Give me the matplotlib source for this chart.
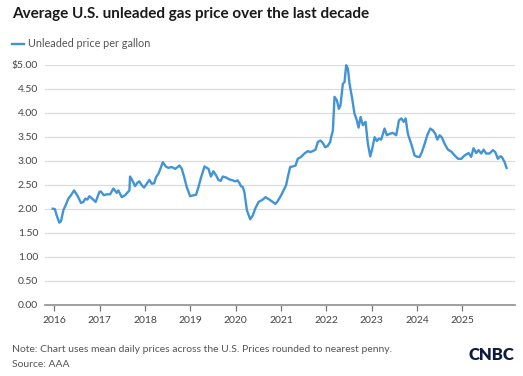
import matplotlib
matplotlib.use('Agg')
import matplotlib.pyplot as plt
import matplotlib.dates as mdates
import pandas as pd

# weekly-ish AAA regular unleaded average
dates = [
    '2015-12-19', '2016-01-06', '2016-01-20', '2016-02-10', '2016-02-24', '2016-03-14',
    '2016-04-01', '2016-04-23', '2016-05-14', '2016-06-08', '2016-07-04', '2016-08-03',
    '2016-08-22', '2016-09-07', '2016-09-23', '2016-10-09', '2016-10-28', '2016-11-29',
    '2016-12-29', '2017-01-09', '2017-02-04', '2017-02-26', '2017-03-25', '2017-04-21',
    '2017-05-18', '2017-05-31', '2017-06-27', '2017-07-24', '2017-08-20', '2017-08-28',
    '2017-09-02', '2017-09-21', '2017-10-12', '2017-10-31', '2017-11-16', '2017-12-05',
    '2017-12-24', '2018-01-15', '2018-02-05', '2018-02-24', '2018-03-15', '2018-03-31',
    '2018-04-19', '2018-05-10', '2018-05-24', '2018-06-17', '2018-07-08', '2018-08-04',
    '2018-08-31', '2018-09-22', '2018-10-05', '2018-10-24', '2018-11-12', '2018-12-03',
    '2018-12-30', '2019-01-26', '2019-02-16', '2019-03-07', '2019-03-29', '2019-04-25',
    '2019-05-27', '2019-06-15', '2019-07-06', '2019-07-28', '2019-08-15', '2019-09-03',
    '2019-09-19', '2019-10-16', '2019-11-12', '2019-12-09', '2019-12-28', '2020-01-16',
    '2020-02-01', '2020-02-12', '2020-02-28', '2020-03-12', '2020-03-31', '2020-04-27',
    '2020-05-18', '2020-06-06', '2020-07-03', '2020-08-06', '2020-08-28', '2020-09-29',
    '2020-10-26', '2020-11-16', '2020-12-05', '2021-01-01', '2021-01-20', '2021-02-10',
    '2021-02-24', '2021-03-15', '2021-04-05', '2021-04-27', '2021-05-15', '2021-06-11',
    '2021-07-08', '2021-08-04', '2021-08-23', '2021-09-13', '2021-10-05', '2021-10-24',
    '2021-11-14', '2021-12-03', '2021-12-22', '2022-01-12', '2022-01-31', '2022-02-08',
    '2022-02-22', '2022-03-07', '2022-03-26', '2022-04-11', '2022-04-24', '2022-05-13',
    '2022-05-27', '2022-06-09', '2022-06-23', '2022-07-06', '2022-07-25', '2022-08-15',
    '2022-09-03', '2022-09-17', '2022-10-03', '2022-10-22', '2022-11-12', '2022-12-01',
    '2022-12-20', '2023-01-05', '2023-01-24', '2023-02-11', '2023-02-28', '2023-03-18',
    '2023-04-14', '2023-05-03', '2023-05-25', '2023-06-20', '2023-07-17', '2023-08-08',
    '2023-08-27', '2023-09-15', '2023-10-01', '2023-10-19', '2023-11-15', '2023-12-12',
    '2024-01-03', '2024-01-22', '2024-02-09', '2024-03-02', '2024-03-23', '2024-04-17',
    '2024-05-08', '2024-05-27', '2024-06-12', '2024-07-01', '2024-07-20', '2024-08-10',
    '2024-09-06', '2024-10-03', '2024-10-30', '2024-11-26', '2024-12-23', '2025-01-09',
    '2025-01-31', '2025-02-19', '2025-03-12', '2025-03-31', '2025-04-21', '2025-05-10',
    '2025-06-01', '2025-06-20', '2025-07-11', '2025-08-07', '2025-09-03', '2025-09-22',
    '2025-10-13', '2025-11-01', '2025-11-14', '2025-12-06', '2025-12-22',
]
prices = [
    2.00, 1.99, 1.86, 1.71, 1.74, 1.97,
    2.07, 2.21, 2.28, 2.38, 2.28, 2.12,
    2.14, 2.21, 2.19, 2.26, 2.22, 2.14,
    2.35, 2.36, 2.28, 2.30, 2.30, 2.42,
    2.33, 2.38, 2.24, 2.28, 2.36, 2.38,
    2.67, 2.59, 2.47, 2.54, 2.57, 2.49,
    2.44, 2.52, 2.60, 2.52, 2.53, 2.66,
    2.73, 2.87, 2.97, 2.88, 2.85, 2.87,
    2.83, 2.87, 2.90, 2.83, 2.66, 2.45,
    2.26, 2.28, 2.29, 2.45, 2.66, 2.88,
    2.83, 2.67, 2.78, 2.69, 2.60, 2.58,
    2.67, 2.65, 2.61, 2.59, 2.57, 2.59,
    2.53, 2.47, 2.45, 2.33, 1.97, 1.78,
    1.86, 2.00, 2.14, 2.19, 2.24, 2.19,
    2.14, 2.10, 2.16, 2.28, 2.38, 2.49,
    2.66, 2.87, 2.88, 2.90, 3.04, 3.08,
    3.15, 3.20, 3.18, 3.20, 3.23, 3.39,
    3.42, 3.37, 3.28, 3.31, 3.39, 3.49,
    3.63, 4.33, 4.26, 4.08, 4.15, 4.60,
    4.64, 4.99, 4.92, 4.60, 4.33, 3.98,
    3.84, 3.69, 3.91, 3.74, 3.81, 3.35,
    3.09, 3.25, 3.49, 3.41, 3.46, 3.44,
    3.67, 3.53, 3.56, 3.58, 3.53, 3.84,
    3.88, 3.81, 3.88, 3.56, 3.35, 3.11,
    3.08, 3.08, 3.18, 3.35, 3.53, 3.67,
    3.63, 3.56, 3.44, 3.53, 3.48, 3.35,
    3.23, 3.19, 3.11, 3.04, 3.04, 3.09,
    3.13, 3.16, 3.08, 3.26, 3.16, 3.22,
    3.15, 3.23, 3.15, 3.15, 3.22, 3.18,
    3.04, 3.09, 3.08, 2.97, 2.85,
]
years = list(range(2016, 2026))
y_ticks = [0, 0.5, 1, 1.5, 2, 2.5, 3, 3.5, 4, 4.5, 5]

title = 'Average U.S. unleaded gas price over the last decade'
series_name = 'Unleaded price per gallon'
note = 'Note: Chart uses mean daily prices across the U.S. Prices rounded to nearest penny.'
source = 'Source: AAA'

plt.rcParams['font.family'] = ['Lato', 'DejaVu Sans']

W, H = 523, 376
fig = plt.figure(figsize=(W / 100, H / 100), dpi=100)
ax = fig.add_axes([45 / W, 1 - 304.7 / H, 470 / W, 240 / H])

line_color = '#4394d6'
t = pd.to_datetime(dates)
ax.plot(t, prices, color=line_color, lw=1.7, clip_on=False, solid_joinstyle='round')

ax.set_xlim(pd.Timestamp('2015-10-18'), pd.Timestamp('2026-02-28'))
ax.set_ylim(0, 5)
ax.set_xticks([pd.Timestamp(f'{y}-01-01') for y in years])
ax.xaxis.set_major_formatter(mdates.DateFormatter('%Y'))
ax.set_yticks(y_ticks)
ax.set_yticklabels(['$%.2f' % v if v == 5 else '%.2f' % v for v in y_ticks])

ax.grid(axis='y', color='#dcdcdc', lw=0.9)
ax.set_axisbelow(True)
for s in ['top', 'right', 'left']:
    ax.spines[s].set_visible(False)
ax.spines['bottom'].set_color('#999999')
ax.spines['bottom'].set_linewidth(1.3)
ax.tick_params(axis='y', length=0, pad=5, labelsize=7.5, labelcolor='#444444')
ax.tick_params(axis='x', length=4, width=0.9, color='#777777', pad=4,
               labelsize=7.5, labelcolor='#444444')

fig.text(12 / W, 1 - 14 / H, title, fontsize=11, fontweight='bold',
         color='#1a1a1a', va='center', ha='left')
fig.add_artist(plt.Line2D([12 / W, 24 / W], [1 - 43.5 / H, 1 - 43.5 / H],
                          color=line_color, lw=1.7))
fig.text(28 / W, 1 - 43.5 / H, series_name, fontsize=7.8, color='#555555',
         va='center', ha='left')
fig.text(12 / W, 1 - 349 / H, note, fontsize=7.5, color='#555555',
         va='center', ha='left')
fig.text(12 / W, 1 - 364.5 / H, source, fontsize=7.5, color='#555555',
         va='center', ha='left')
fig.text(514 / W, 1 - 355 / H, 'CNBC', fontsize=12, fontweight='heavy',
         color='#0d1b3e', va='center', ha='right')

fig.savefig('out.png', dpi=100)
